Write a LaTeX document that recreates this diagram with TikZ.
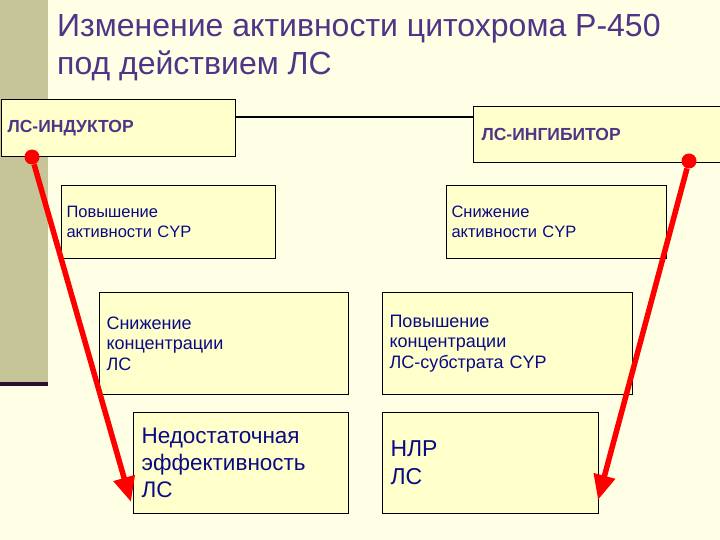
\documentclass[tikz,border=0pt]{standalone}
\usepackage{fontspec}
\setmainfont{Liberation Sans}
\usetikzlibrary{arrows.meta}

\definecolor{slidebg}{HTML}{FFFFE6}
\definecolor{boxfill}{HTML}{FFFFCC}
\definecolor{sidebar}{HTML}{C5C598}
\definecolor{sideline}{HTML}{2D0F30}
\definecolor{titlecol}{HTML}{4F3587}
\definecolor{textblue}{HTML}{0A0A85}

\tikzset{
  box/.style={draw=black, line width=1.1pt, fill=boxfill, anchor=north west,
    align=left, inner xsep=6pt, inner ysep=0pt, text=textblue},
  headtext/.style={font=\bfseries\fontsize{17.5}{20}\selectfont, text=titlecol},
  titletext/.style={font=\fontsize{32}{38}\selectfont, text=titlecol, inner sep=0pt, anchor=base west},
  reddot/.style={circle, fill=red, minimum size=15pt, inner sep=0pt},
  redarrow/.style={draw=red, line width=5.5pt, -{Triangle[length=25pt,width=21pt]}}
}

\begin{document}
\begin{tikzpicture}[x=1pt, y=-1pt]
        \clip (0,0) rectangle (720,540);
        \fill[slidebg] (0,0) rectangle (720,540);
        \fill[sidebar] (0,0) rectangle (48,382);
        \fill[sideline] (0,382) rectangle (48,386);

        \node[titletext] (title1) at (57,37) {Изменение активности цитохрома Р-450};
        \node[titletext] (title2) at (57,75) {под действием ЛС};

        \node[box, headtext, text width=222pt, minimum height=57pt] (induct) at (1,99) {ЛС-ИНДУКТОР};
        \node[box, headtext, inner xsep=8pt, text width=240pt, minimum height=56pt] (ingib) at (473,106) {ЛС-ИНГИБИТОР};
        \draw[line width=2pt] (induct.east |- 0,117) -- (ingib.west |- 0,117);

        \node[box, font=\fontsize{16.5}{20}\selectfont, inner xsep=5pt, text width=204pt, minimum height=73pt] (upL) at (61,185) {Повышение\\активности CYP};
        \node[box, font=\fontsize{16.5}{20}\selectfont, inner xsep=5pt, text width=210pt, minimum height=73pt] (upR) at (446,185) {Снижение\\активности CYP};

        \node[box, font=\fontsize{18}{20.5}\selectfont, inner xsep=7pt, text width=235pt, minimum height=102pt] (midL) at (99,292) {Снижение\\концентрации\\ЛС};
        \node[box, font=\fontsize{18}{20.5}\selectfont, inner xsep=7pt, text width=236pt, minimum height=102pt] (midR) at (382,292) {Повышение\\концентрации\\ЛС-субстрата CYP};

        \node[box, font=\fontsize{22.5}{27}\selectfont, inner xsep=8pt, text width=199pt, minimum height=101pt] (lowL) at (133,412) {Недостаточная\\эффективность\\ЛС};
        \node[box, font=\fontsize{23}{28}\selectfont, inner xsep=8pt, text width=200pt, minimum height=101pt] (lowR) at (382,412) {НЛР\\ЛС};

        \node[reddot] (dotL) at (32,157) {};
        \node[reddot] (dotR) at (689,161) {};
        \coordinate (tipL) at (131,502);
        \coordinate (tipR) at (598,500);
        \draw[redarrow] (dotL) -- (tipL);
        \draw[redarrow] (dotR) -- (tipR);
\end{tikzpicture}
\end{document}
